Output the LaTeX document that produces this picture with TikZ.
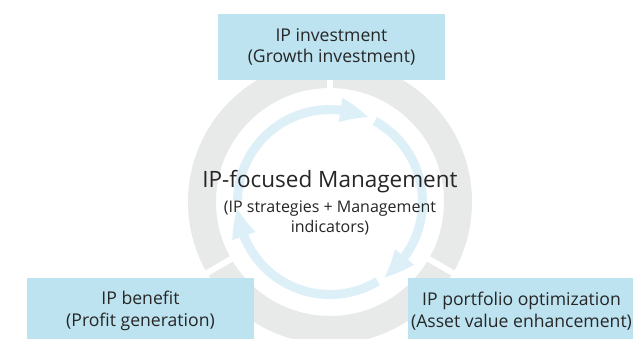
\documentclass[tikz,border=0pt]{standalone}
\usepackage{fontspec}
\setmainfont{Open Sans}
\usetikzlibrary{arrows.meta,bending}
\definecolor{boxblue}{HTML}{BDE3F0}
\definecolor{ringgray}{HTML}{E8E9E9}
\definecolor{arrowblue}{HTML}{DDF0F8}
\definecolor{txt}{HTML}{262626}
\begin{document}
\begin{tikzpicture}[x=1pt,y=1pt,
  infobox/.style={fill=boxblue, minimum width=227pt, minimum height=66pt, inner sep=0pt, align=center, text=txt, font=\fontsize{17.6}{21.5}\selectfont},
  cyclearc/.style={draw=arrowblue, line width=9pt, -{Triangle[length=30pt,width=22pt,bend]}},
  ringgap/.style={draw=white, line width=6pt}]
\useasboundingbox (0,0) rectangle (633,338);
\clip (0,0) rectangle (633,338);
\fill[white] (0,0) rectangle (633,338);
\coordinate (c) at (330,136);
\draw[ringgray, line width=28pt] (c) circle[radius=128];
\foreach \a in {90,210,330} \draw[ringgap] (c) ++(\a:108) -- ++(\a:40);
\draw[cyclearc] (c) ++(179:92.5) arc[start angle=179,end angle=65,radius=92.5];
\draw[cyclearc] (c) ++(61:92.5) arc[start angle=61,end angle=-55,radius=92.5];
\draw[cyclearc] (c) ++(-59:92.5) arc[start angle=-59,end angle=-177,radius=92.5];
\node[infobox] (invest) at (331.5,291) {IP investment\\(Growth investment)};
\node[infobox] (benefit) at (140.5,27) {IP benefit\\(Profit generation)};
\node[infobox] (portfolio) at (521.5,27) {IP portfolio optimization\\(Asset value enhancement)};
\node[font=\fontsize{22.5}{26}\selectfont, text=txt, anchor=base, inner sep=0pt] (title) at (330,150) {IP-focused Management};
\node[font=\fontsize{16}{21}\selectfont, text=txt, align=center, anchor=base, inner sep=0pt] (sub) at (330,105) {(IP strategies + Management\\indicators)};
\end{tikzpicture}
\end{document}
